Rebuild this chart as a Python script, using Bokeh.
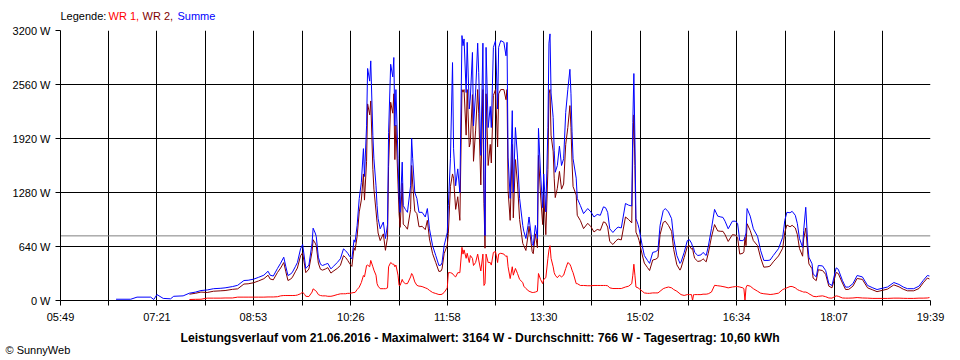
import numpy as np
from bokeh.plotting import figure
from bokeh.layouts import column
from bokeh.models import Range1d, FixedTicker, Span, ColumnDataSource
from bokeh.core.properties import value
from bokeh.embed import file_html
from bokeh.resources import INLINE

# ---------------- data ----------------
times = [
    "06:42","06:56","07:02","07:15","07:18","07:21","07:27","07:34","07:37","07:46",
    "07:52","07:58","08:03","08:09","08:15","08:22","08:26","08:33","08:38","08:44",
    "08:48","08:53","08:58","09:03","09:07","09:09","09:12","09:16","09:19","09:22",
    "09:24","09:26","09:28","09:30","09:33","09:35","09:38","09:40","09:42","09:43",
    "09:46","09:49","09:50","09:52","09:53","09:55","09:57","09:59","10:02","10:04",
    "10:07","10:09","10:13","10:16","10:19","10:21","10:23","10:25","10:27","10:29",
    "10:30","10:32","10:34","10:36","10:38","10:39","10:41","10:42","10:44","10:45",
    "10:47","10:48","10:50","10:51","10:52","10:54","10:57","10:59","11:01","11:02",
    "11:04","11:06","11:07","11:08","11:09","11:11","11:12","11:13","11:15","11:16",
    "11:18","11:20","11:23","11:24","11:25","11:27","11:29","11:31","11:32","11:34",
    "11:37","11:39","11:41","11:44","11:47","11:50","11:52","11:53","11:55","11:58",
    "11:59","12:01","12:03","12:04","12:06","12:08","12:10","12:12","12:13","12:14",
    "12:16","12:17","12:19","12:20","12:22","12:23","12:25","12:27","12:28","12:30",
    "12:32","12:33","12:34","12:35","12:37","12:39","12:40","12:42","12:44","12:46",
    "12:47","12:49","12:52","12:54","12:55","12:56","12:58","13:00","13:01","13:03",
    "13:05","13:07","13:10","13:11","13:13","13:15","13:16","13:19","13:20","13:22",
    "13:24","13:25","13:27","13:29","13:30","13:32","13:34","13:35","13:36","13:37",
    "13:39","13:40","13:41","13:43","13:45","13:47","13:49","13:51","13:53","13:55",
    "13:56","13:57","13:58","14:01","14:02","14:05","14:08","14:12","14:15","14:18",
    "14:21","14:24","14:27","14:29","14:31","14:33","14:36","14:39","14:41","14:44",
    "14:48","14:51","14:54","14:55","14:56","14:57","14:58","15:00","15:01","15:04",
    "15:06","15:09","15:11","15:14","15:17","15:19","15:21","15:24","15:26","15:29",
    "15:32","15:34","15:37","15:40","15:41","15:44","15:47","15:49","15:51","15:52",
    "15:53","15:54","15:57","16:00","16:02","16:05","16:07","16:10","16:13","16:16",
    "16:19","16:21","16:23","16:26","16:30","16:33","16:35","16:37","16:40","16:41",
    "16:42","16:43","16:44","16:47","16:50","16:54","16:57","17:00","17:04","17:06",
    "17:09","17:14","17:18","17:20","17:22","17:25","17:27","17:30","17:32","17:34",
    "17:37","17:38","17:40","17:42","17:43","17:46","17:47","17:50","17:52","17:56",
    "17:59","18:02","18:05","18:06","18:09","18:11","18:15","18:18","18:21","18:25",
    "18:29","18:34","18:39","18:44","18:48","18:53","18:58","19:04","19:09","19:13",
    "19:17","19:23","19:28","19:32","19:36","19:38",
]

summe = [
    15, 15, 40, 40, 12, 70, 25, 20, 50, 55,
    87, 100, 118, 125, 140, 145, 150, 165, 180, 237,
    240, 252, 275, 300, 347, 300, 290, 380, 442, 513,
    400, 296, 310, 330, 400, 450, 612, 664, 480, 380,
    420, 680, 857, 800, 760, 513, 430, 415, 430, 440,
    375, 400, 450, 494, 612, 590, 560, 520, 494, 719,
    690, 890, 1210, 1400, 1800, 1470, 2070, 2750, 2600, 2840,
    1955, 1680, 1360, 1125, 970, 850, 930, 735, 900, 1990,
    2800, 2650, 2880, 2070, 2500, 1680, 1210, 1045, 1640, 1125,
    1080, 1045, 1360, 1920, 1680, 1280, 1210, 1045, 1045, 1045,
    990, 1090, 850, 650, 533, 415, 420, 450, 650, 806,
    1125, 1680, 2820, 1800, 1360, 1560, 1280, 3140, 3020, 3100,
    2465, 3060, 2270, 2400, 2940, 2070, 2460, 3050, 2700, 1720,
    3050, 1330, 770, 3000, 2050, 2300, 2050, 3000, 3080, 2270,
    3000, 3080, 3060, 2900, 3060, 1700, 1210, 2250, 1280, 2050,
    1700, 1210, 890, 820, 735, 890, 990, 675, 650, 890,
    735, 2040, 1500, 1100, 1500, 1050, 2050, 3050, 3160, 2460,
    2170, 1780, 1520, 1600, 1830, 1600, 1680, 2230, 2500, 2740,
    2450, 2000, 1680, 1450, 1210, 1125, 1030, 1090, 1050, 990,
    1020, 1010, 1110, 1100, 1045, 850, 806, 850, 870, 860,
    1150, 1130, 1120, 2110, 2690, 1900, 970, 900, 850, 650,
    533, 475, 440, 570, 580, 600, 890, 1065, 1090, 1050,
    970, 735, 533, 440, 455, 570, 710, 720, 680, 640,
    620, 570, 533, 540, 570, 533, 640, 850, 1080, 1000,
    990, 985, 940, 850, 940, 940, 910, 710, 710, 720,
    750, 800, 1090, 1000, 850, 760, 590, 475, 475, 480,
    533, 615, 750, 950, 1045, 1040, 1057, 1010, 910, 735,
    630, 830, 1105, 640, 513, 435, 316, 280, 415, 410,
    355, 200, 178, 230, 387, 370, 237, 158, 160, 200,
    296, 280, 178, 150, 130, 145, 160, 213, 190, 160,
    140, 140, 170, 237, 296, 290,
]

wr1 = [
    None, None, None, None, None, None, None, None, None, None,
    12, 14, 15, 28, 28, 28, 30, 30, 40, 40,
    40, 40, 40, 40, 42, 42, 42, 45, 55, 59,
    59, 59, 59, 59, 60, 65, 80, 99, 70, 50,
    47, 100, 138, 120, 110, 70, 59, 55, 55, 50,
    50, 55, 70, 79, 80, 80, 85, 85, 90, 95,
    95, 130, 158, 213, 296, 280, 415, 420, 400, 475,
    400, 360, 300, 200, 170, 140, 140, 140, 150, 400,
    450, 430, 430, 400, 420, 300, 180, 178, 250, 220,
    200, 200, 280, 320, 300, 220, 180, 170, 170, 165,
    150, 140, 120, 95, 83, 71, 71, 75, 95, 150,
    330, 330, 320, 300, 280, 330, 330, 630, 550, 600,
    500, 560, 450, 533, 500, 415, 450, 550, 480, 350,
    550, 178, 200, 550, 450, 450, 420, 570, 580, 450,
    550, 560, 550, 520, 530, 400, 260, 400, 300, 380,
    320, 250, 213, 170, 142, 120, 110, 95, 95, 100,
    110, 320, 250, 200, 250, 270, 500, 600, 650, 500,
    400, 330, 300, 270, 300, 280, 300, 380, 450, 430,
    400, 360, 330, 200, 200, 178, 178, 175, 175, 178,
    178, 178, 178, 178, 175, 150, 142, 142, 142, 142,
    160, 170, 200, 300, 430, 300, 160, 150, 140, 110,
    90, 85, 85, 90, 90, 90, 110, 140, 150, 160,
    150, 130, 110, 80, 70, 60, 70, 70, 70, 0,
    70, 70, 70, 70, 75, 75, 80, 100, 180, 175,
    170, 165, 160, 150, 160, 165, 165, 160, 150, 140,
    0, 150, 180, 170, 140, 110, 87, 80, 75, 71,
    75, 87, 130, 140, 150, 166, 166, 150, 130, 118,
    105, 100, 100, 90, 80, 59, 50, 45, 50, 55,
    45, 30, 28, 35, 55, 50, 30, 28, 28, 30,
    35, 30, 28, 25, 25, 25, 25, 28, 28, 26,
    25, 25, 28, 28, 30, 35,
]

wr2 = [
    None, None, None, None, None, None, None, None, None, None,
    75, 86, 100, 95, 110, 115, 118, 132, 138, 195,
    198, 210, 232, 258, 300, 255, 245, 332, 385, 450,
    340, 237, 250, 270, 340, 385, 530, 565, 410, 330,
    373, 580, 720, 680, 650, 443, 371, 360, 375, 390,
    325, 345, 380, 415, 532, 510, 475, 435, 404, 624,
    595, 760, 1050, 1190, 1500, 1190, 1650, 2330, 2200, 2365,
    1555, 1320, 1060, 925, 800, 710, 790, 595, 750, 1590,
    2350, 2220, 2450, 1670, 2080, 1380, 1030, 867, 1390, 905,
    880, 845, 1080, 1600, 1380, 1060, 1030, 875, 875, 880,
    840, 950, 730, 555, 450, 344, 349, 375, 555, 656,
    795, 1350, 1500, 1450, 1080, 1230, 950, 2500, 2470, 2500,
    1960, 2500, 1820, 1870, 2440, 1650, 2010, 2500, 2220, 1370,
    2500, 1150, 620, 2450, 1600, 1850, 1630, 2430, 2500, 1820,
    2450, 2500, 2500, 2380, 2500, 1300, 950, 1850, 980, 1670,
    1380, 960, 677, 650, 593, 770, 880, 580, 555, 790,
    625, 1720, 1250, 900, 1250, 780, 1550, 2450, 2500, 1960,
    1770, 1450, 1220, 1330, 1530, 1320, 1380, 1850, 2050, 2310,
    2050, 1640, 1350, 1250, 1010, 947, 852, 915, 875, 812,
    842, 832, 932, 922, 870, 700, 664, 708, 728, 718,
    990, 960, 920, 1800, 2200, 1600, 810, 750, 710, 540,
    443, 390, 355, 480, 490, 510, 780, 925, 940, 890,
    820, 605, 423, 360, 385, 510, 640, 650, 610, 620,
    550, 500, 463, 470, 495, 458, 560, 750, 900, 825,
    820, 820, 780, 700, 780, 775, 745, 550, 560, 580,
    750, 650, 910, 830, 710, 650, 503, 395, 400, 409,
    458, 528, 620, 810, 895, 874, 891, 860, 780, 617,
    525, 730, 860, 550, 433, 376, 266, 235, 365, 355,
    310, 170, 150, 195, 332, 320, 207, 130, 132, 170,
    261, 250, 150, 125, 105, 120, 135, 185, 162, 134,
    115, 115, 142, 209, 266, 255,
]

average_w = 766
x_tick_labels = ["05:49", "07:21", "08:53", "10:26", "11:58",
                 "13:30", "15:02", "16:34", "18:07", "19:39"]
y_ticks = [0, 640, 1280, 1920, 2560, 3200]

legend_texts = ["Legende:", "WR 1,", "WR 2,", "Summe"]
legend_colors = ["#000000", "#FF0000", "#800000", "#0000FF"]
title_text = ("Leistungsverlauf vom 21.06.2016 - Maximalwert: 3164 W - "
              "Durchschnitt: 766 W - Tagesertrag: 10,60 kWh")
credit_text = "\u00a9 SunnyWeb"

# ---------------- build ----------------
assert len(times) == len(summe) == len(wr1) == len(wr2)

FONT = "Liberation Sans"
W = 960


def to_min(t):
    h, m = t.split(":")
    return int(h) * 60 + int(m)


def strip(height):
    f = figure(frame_width=W, frame_height=height,
               x_range=Range1d(0, W), y_range=Range1d(height, 0),
               output_backend="svg", toolbar_location=None,
               x_axis_location=None, y_axis_location=None,
               min_border=0, min_border_left=0, min_border_right=0,
               min_border_top=0, min_border_bottom=0,
               background_fill_color="white", border_fill_color="white",
               frame_align=False)
    f.outline_line_color = None
    f.xgrid.visible = False
    f.ygrid.visible = False
    return f


src = ColumnDataSource(dict(
    t=[to_min(t) for t in times],
    summe=np.array(summe, dtype=float),
    wr1=np.array(wr1, dtype=float),
    wr2=np.array(wr2, dtype=float),
))

major = [to_min(s) for s in x_tick_labels]
mids = [(a + b) / 2 for a, b in zip(major[:-1], major[1:])]
x_ticks = sorted(major + mids)
overrides = {}
for m, lab in zip(major, x_tick_labels):
    overrides[m] = lab
for m in mids:
    overrides[m] = ""

# top strip: colored legend text
top = strip(24)
top.text(x=[60, 108, 142, 177], y=[15, 15, 15, 15], text=legend_texts,
         text_color=legend_colors, text_font=value(FONT),
         text_font_size="11px", text_baseline="middle", text_align="left")

# main chart
p = figure(frame_width=870, frame_height=270,
           x_range=Range1d(major[0], major[-1]),
           y_range=Range1d(0, 3200),
           output_backend="svg", toolbar_location=None,
           min_border_left=60, min_border_right=30,
           min_border_top=6, min_border_bottom=30,
           background_fill_color="white", border_fill_color="white",
           frame_align=False)
p.outline_line_color = None

p.xaxis.ticker = FixedTicker(ticks=x_ticks)
p.xaxis.major_label_overrides = overrides
p.yaxis.ticker = FixedTicker(ticks=y_ticks)
p.yaxis.major_label_overrides = {v: f"{v} W" for v in y_ticks}

for ax in (p.xaxis, p.yaxis):
    ax.axis_line_color = "black"
    ax.axis_line_width = 1
    ax.major_tick_line_color = "black"
    ax.major_tick_in = 0
    ax.major_tick_out = 5
    ax.minor_tick_line_color = None
    ax.major_label_text_font = FONT
    ax.major_label_text_font_size = "11px"
    ax.major_label_text_color = "black"
p.xaxis.major_label_standoff = 5
p.yaxis.major_label_standoff = 5

for g in (p.xgrid, p.ygrid):
    g.grid_line_color = "black"
    g.grid_line_alpha = 1.0
    g.grid_line_width = 1

p.add_layout(Span(location=average_w, dimension="width",
                  line_color="#808080", line_width=1, level="underlay"))

p.line("t", "wr1", source=src, line_color="#FF0000", line_width=1)
p.line("t", "wr2", source=src, line_color="#800000", line_width=1)
p.line("t", "summe", source=src, line_color="#0000FF", line_width=1)

# bottom strip: summary title and credit
bottom = strip(30)
bottom.text(x=[180], y=[7], text=[title_text], text_color="black",
            text_font=value(FONT), text_font_size="12.2px",
            text_font_style="bold", text_baseline="middle",
            text_align="left")
bottom.text(x=[5], y=[19], text=[credit_text], text_color="black",
            text_font=value(FONT), text_font_size="11px",
            text_baseline="middle", text_align="left")

layout = column(top, p, bottom, spacing=0)
open("out.html", "w").write(file_html(layout, INLINE))
